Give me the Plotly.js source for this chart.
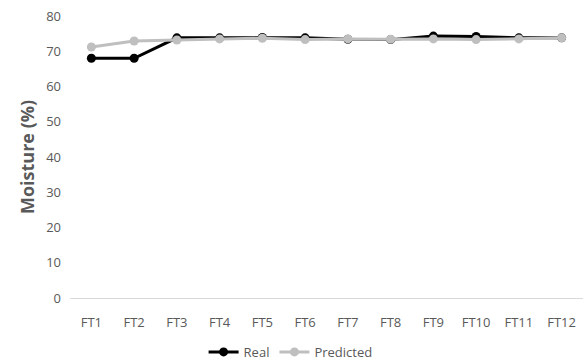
<!DOCTYPE html>
<html><head><meta charset="utf-8">
<script src="https://cdn.plot.ly/plotly-3.0.1.min.js"></script>
<style>body{margin:0;padding:0;}#c{width:584px;height:364px;}</style>
</head><body><div id="c"></div>
<script>
const categories = ["FT1","FT2","FT3","FT4","FT5","FT6","FT7","FT8","FT9","FT10","FT11","FT12"];
const realValues = [68.0, 68.0, 73.8, 73.8, 73.9, 73.8, 73.4, 73.3, 74.3, 74.2, 73.8, 73.8];
const predictedValues = [71.2, 72.9, 73.2, 73.5, 73.7, 73.3, 73.5, 73.4, 73.5, 73.3, 73.5, 73.8];
const yTicks = [0,10,20,30,40,50,60,70,80];

const font = "'Open Sans', 'Liberation Sans', sans-serif";
const traces = [
  {x: categories, y: realValues, name: "Real", type: "scatter", mode: "lines+markers",
   line: {color: "#000000", width: 3}, marker: {color: "#000000", size: 9}},
  {x: categories, y: predictedValues, name: "Predicted", type: "scatter", mode: "lines+markers",
   line: {color: "#bfbfbf", width: 3}, marker: {color: "#bfbfbf", size: 9}}
];
const layout = {
  width: 584, height: 364,
  margin: {l: 70, r: 1, t: 16, b: 66, autoexpand: false},
  paper_bgcolor: "#ffffff", plot_bgcolor: "#ffffff",
  showlegend: true,
  legend: {orientation: "h", x: 0.43, xanchor: "center", yref: "container", y: 0.033, yanchor: "middle",
           font: {family: font, size: 13, color: "#595959"}},
  xaxis: {type: "category", range: [-0.5, 11.5], showgrid: false, zeroline: false,
          showline: true, linecolor: "#d9d9d9", linewidth: 1, ticks: "", ticklabelstandoff: 12,
          tickfont: {family: font, size: 13, color: "#595959"}},
  yaxis: {range: [0, 80], tickvals: yTicks, showgrid: false, zeroline: false, showline: false,
          ticks: "", ticklabelstandoff: 8,
          tickfont: {family: font, size: 13, color: "#595959"},
          title: {text: "Moisture (%)", font: {family: font, size: 18, color: "#595959", weight: "bold"}, standoff: 6}}
};
Plotly.newPlot("c", traces, layout, {displayModeBar: false, staticPlot: true});
</script></body></html>
